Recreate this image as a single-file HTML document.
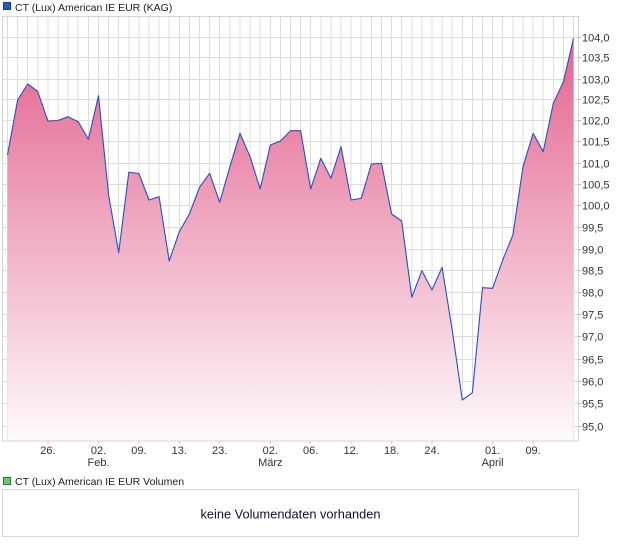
<!DOCTYPE html>
<html><head><meta charset="utf-8"><style>
html,body{margin:0;padding:0;background:#fff;}
svg{display:block;font-family:"Liberation Sans",Arial,sans-serif;}
</style></head><body>
<svg width="620" height="546" viewBox="0 0 620 546" xmlns="http://www.w3.org/2000/svg">
<defs>
<linearGradient id="g" gradientUnits="userSpaceOnUse" x1="0" y1="38" x2="0" y2="441">
<stop offset="0" stop-color="#e3638f"/>
<stop offset="1" stop-color="#fefafb"/>
</linearGradient>
</defs>
<!-- legend 1 -->
<rect x="3.5" y="2.5" width="7" height="7" fill="#1f5cc0" stroke="#123f8a" stroke-width="1"/>
<text x="15" y="11" font-size="10.5" fill="#222">CT (Lux) American IE EUR (KAG)</text>
<!-- grid -->
<g stroke="#dcdcdc" stroke-width="1" shape-rendering="crispEdges">
<line x1="3" y1="37.5" x2="578" y2="37.5"/><line x1="3" y1="57.5" x2="578" y2="57.5"/><line x1="3" y1="79.5" x2="578" y2="79.5"/><line x1="3" y1="99.5" x2="578" y2="99.5"/><line x1="3" y1="120.5" x2="578" y2="120.5"/><line x1="3" y1="141.5" x2="578" y2="141.5"/><line x1="3" y1="163.5" x2="578" y2="163.5"/><line x1="3" y1="184.5" x2="578" y2="184.5"/><line x1="3" y1="205.5" x2="578" y2="205.5"/><line x1="3" y1="227.5" x2="578" y2="227.5"/><line x1="3" y1="249.5" x2="578" y2="249.5"/><line x1="3" y1="270.5" x2="578" y2="270.5"/><line x1="3" y1="292.5" x2="578" y2="292.5"/><line x1="3" y1="314.5" x2="578" y2="314.5"/><line x1="3" y1="336.5" x2="578" y2="336.5"/><line x1="3" y1="359.5" x2="578" y2="359.5"/><line x1="3" y1="381.5" x2="578" y2="381.5"/><line x1="3" y1="403.5" x2="578" y2="403.5"/><line x1="3" y1="426.5" x2="578" y2="426.5"/>
<line x1="7.5" y1="17" x2="7.5" y2="441"/><line x1="17.6" y1="17" x2="17.6" y2="441"/><line x1="27.7" y1="17" x2="27.7" y2="441"/><line x1="37.8" y1="17" x2="37.8" y2="441"/><line x1="47.9" y1="17" x2="47.9" y2="441"/><line x1="58" y1="17" x2="58" y2="441"/><line x1="68.1" y1="17" x2="68.1" y2="441"/><line x1="78.2" y1="17" x2="78.2" y2="441"/><line x1="88.4" y1="17" x2="88.4" y2="441"/><line x1="98.5" y1="17" x2="98.5" y2="441"/><line x1="108.6" y1="17" x2="108.6" y2="441"/><line x1="118.7" y1="17" x2="118.7" y2="441"/><line x1="128.8" y1="17" x2="128.8" y2="441"/><line x1="138.9" y1="17" x2="138.9" y2="441"/><line x1="149" y1="17" x2="149" y2="441"/><line x1="159.1" y1="17" x2="159.1" y2="441"/><line x1="169.2" y1="17" x2="169.2" y2="441"/><line x1="179.3" y1="17" x2="179.3" y2="441"/><line x1="189.4" y1="17" x2="189.4" y2="441"/><line x1="199.5" y1="17" x2="199.5" y2="441"/><line x1="209.6" y1="17" x2="209.6" y2="441"/><line x1="219.7" y1="17" x2="219.7" y2="441"/><line x1="229.9" y1="17" x2="229.9" y2="441"/><line x1="240" y1="17" x2="240" y2="441"/><line x1="250.1" y1="17" x2="250.1" y2="441"/><line x1="260.2" y1="17" x2="260.2" y2="441"/><line x1="270.3" y1="17" x2="270.3" y2="441"/><line x1="280.4" y1="17" x2="280.4" y2="441"/><line x1="290.5" y1="17" x2="290.5" y2="441"/><line x1="300.6" y1="17" x2="300.6" y2="441"/><line x1="310.7" y1="17" x2="310.7" y2="441"/><line x1="320.8" y1="17" x2="320.8" y2="441"/><line x1="330.9" y1="17" x2="330.9" y2="441"/><line x1="341" y1="17" x2="341" y2="441"/><line x1="351.1" y1="17" x2="351.1" y2="441"/><line x1="361.2" y1="17" x2="361.2" y2="441"/><line x1="371.4" y1="17" x2="371.4" y2="441"/><line x1="381.5" y1="17" x2="381.5" y2="441"/><line x1="391.6" y1="17" x2="391.6" y2="441"/><line x1="401.7" y1="17" x2="401.7" y2="441"/><line x1="411.8" y1="17" x2="411.8" y2="441"/><line x1="421.9" y1="17" x2="421.9" y2="441"/><line x1="432" y1="17" x2="432" y2="441"/><line x1="442.1" y1="17" x2="442.1" y2="441"/><line x1="452.2" y1="17" x2="452.2" y2="441"/><line x1="462.3" y1="17" x2="462.3" y2="441"/><line x1="472.4" y1="17" x2="472.4" y2="441"/><line x1="482.5" y1="17" x2="482.5" y2="441"/><line x1="492.6" y1="17" x2="492.6" y2="441"/><line x1="502.7" y1="17" x2="502.7" y2="441"/><line x1="512.9" y1="17" x2="512.9" y2="441"/><line x1="523" y1="17" x2="523" y2="441"/><line x1="533.1" y1="17" x2="533.1" y2="441"/><line x1="543.2" y1="17" x2="543.2" y2="441"/><line x1="553.3" y1="17" x2="553.3" y2="441"/><line x1="563.4" y1="17" x2="563.4" y2="441"/><line x1="573.5" y1="17" x2="573.5" y2="441"/>
</g>
<!-- fill -->
<polygon fill="url(#g)" points="7.5,155 17.6,100 27.7,84 37.8,91.5 47.9,121 58,120.5 68.1,116.7 78.2,121.7 88.4,139.3 98.5,95.7 108.6,195 118.7,252.7 128.8,172.3 138.9,173.5 149,200 159.1,196.7 169.2,261 179.3,231.7 189.4,214 199.5,187.3 209.6,173.3 219.7,202.3 229.9,166.7 240,133.3 250.1,156.7 260.2,189 270.3,145 280.4,141 290.5,130.7 300.6,130.7 310.7,189 320.8,158.3 330.9,178.3 341,146.7 351.1,200 361.2,198.3 371.4,164 381.5,163.3 391.6,214 401.7,221 411.8,297.3 421.9,270.7 432,290 442.1,267.3 452.2,330 462.3,400 472.4,392.7 482.5,287.7 492.6,288.3 502.7,260 512.9,235 523,166.7 533.1,133.3 543.2,151.7 553.3,103.3 563.4,81.7 573.5,38.3 573.5,441 7.5,441"/>
<!-- line -->
<polyline fill="none" stroke="#1c54c8" stroke-width="1.1" stroke-linejoin="round" points="7.5,155 17.6,100 27.7,84 37.8,91.5 47.9,121 58,120.5 68.1,116.7 78.2,121.7 88.4,139.3 98.5,95.7 108.6,195 118.7,252.7 128.8,172.3 138.9,173.5 149,200 159.1,196.7 169.2,261 179.3,231.7 189.4,214 199.5,187.3 209.6,173.3 219.7,202.3 229.9,166.7 240,133.3 250.1,156.7 260.2,189 270.3,145 280.4,141 290.5,130.7 300.6,130.7 310.7,189 320.8,158.3 330.9,178.3 341,146.7 351.1,200 361.2,198.3 371.4,164 381.5,163.3 391.6,214 401.7,221 411.8,297.3 421.9,270.7 432,290 442.1,267.3 452.2,330 462.3,400 472.4,392.7 482.5,287.7 492.6,288.3 502.7,260 512.9,235 523,166.7 533.1,133.3 543.2,151.7 553.3,103.3 563.4,81.7 573.5,38.3"/>
<!-- plot border -->
<g stroke="#d4d4d4" stroke-width="1" fill="none" shape-rendering="crispEdges">
<rect x="2.5" y="16.5" width="576" height="424.5"/>
</g>
<!-- y ticks -->
<g stroke="#bbbbbb" stroke-width="1" shape-rendering="crispEdges">
<line x1="578" y1="37.5" x2="581" y2="37.5"/><line x1="578" y1="57.5" x2="581" y2="57.5"/><line x1="578" y1="79.5" x2="581" y2="79.5"/><line x1="578" y1="99.5" x2="581" y2="99.5"/><line x1="578" y1="120.5" x2="581" y2="120.5"/><line x1="578" y1="141.5" x2="581" y2="141.5"/><line x1="578" y1="163.5" x2="581" y2="163.5"/><line x1="578" y1="184.5" x2="581" y2="184.5"/><line x1="578" y1="205.5" x2="581" y2="205.5"/><line x1="578" y1="227.5" x2="581" y2="227.5"/><line x1="578" y1="249.5" x2="581" y2="249.5"/><line x1="578" y1="270.5" x2="581" y2="270.5"/><line x1="578" y1="292.5" x2="581" y2="292.5"/><line x1="578" y1="314.5" x2="581" y2="314.5"/><line x1="578" y1="336.5" x2="581" y2="336.5"/><line x1="578" y1="359.5" x2="581" y2="359.5"/><line x1="578" y1="381.5" x2="581" y2="381.5"/><line x1="578" y1="403.5" x2="581" y2="403.5"/><line x1="578" y1="426.5" x2="581" y2="426.5"/>
</g>
<g font-size="11" fill="#333">
<text x="582" y="41.5">104,0</text><text x="582" y="61.5">103,5</text><text x="582" y="83.5">103,0</text><text x="582" y="103.5">102,5</text><text x="582" y="124.5">102,0</text><text x="582" y="145.5">101,5</text><text x="582" y="167.5">101,0</text><text x="582" y="188.5">100,5</text><text x="582" y="209.5">100,0</text><text x="582" y="231.5">99,5</text><text x="582" y="253.5">99,0</text><text x="582" y="274.5">98,5</text><text x="582" y="296.5">98,0</text><text x="582" y="318.5">97,5</text><text x="582" y="340.5">97,0</text><text x="582" y="363.5">96,5</text><text x="582" y="385.5">96,0</text><text x="582" y="407.5">95,5</text><text x="582" y="430.5">95,0</text>
</g>
<!-- x ticks -->
<g stroke="#cccccc" stroke-width="1" shape-rendering="crispEdges">
<line x1="47.9" y1="441" x2="47.9" y2="444"/><line x1="98.5" y1="441" x2="98.5" y2="444"/><line x1="138.9" y1="441" x2="138.9" y2="444"/><line x1="179.3" y1="441" x2="179.3" y2="444"/><line x1="219.7" y1="441" x2="219.7" y2="444"/><line x1="270.3" y1="441" x2="270.3" y2="444"/><line x1="310.7" y1="441" x2="310.7" y2="444"/><line x1="351.1" y1="441" x2="351.1" y2="444"/><line x1="391.6" y1="441" x2="391.6" y2="444"/><line x1="432" y1="441" x2="432" y2="444"/><line x1="492.6" y1="441" x2="492.6" y2="444"/><line x1="533.1" y1="441" x2="533.1" y2="444"/>
</g>
<g font-size="11" fill="#333" text-anchor="middle">
<text x="47.9" y="454">26.</text>
<text x="98.5" y="454">02.</text>
<text x="98.5" y="466">Feb.</text>
<text x="138.9" y="454">09.</text>
<text x="179.3" y="454">13.</text>
<text x="219.7" y="454">23.</text>
<text x="270.3" y="454">02.</text>
<text x="270.3" y="466">März</text>
<text x="310.7" y="454">06.</text>
<text x="351.1" y="454">12.</text>
<text x="391.6" y="454">18.</text>
<text x="432" y="454">24.</text>
<text x="492.6" y="454">01.</text>
<text x="492.6" y="466">April</text>
<text x="533.1" y="454">09.</text>
</g>
<!-- legend 2 -->
<rect x="3.5" y="477.5" width="7" height="7" fill="#66cc66" stroke="#2a7a2a" stroke-width="1"/>
<text x="15" y="485" font-size="10.5" fill="#222">CT (Lux) American IE EUR Volumen</text>
<!-- volume box -->
<rect x="2.5" y="489.5" width="576" height="47" fill="#fff" stroke="#d8d8d8" stroke-width="1" shape-rendering="crispEdges"/>
<text x="290.5" y="518.5" font-size="12.8" fill="#111133" text-anchor="middle">keine Volumendaten vorhanden</text>
</svg>
</body></html>
